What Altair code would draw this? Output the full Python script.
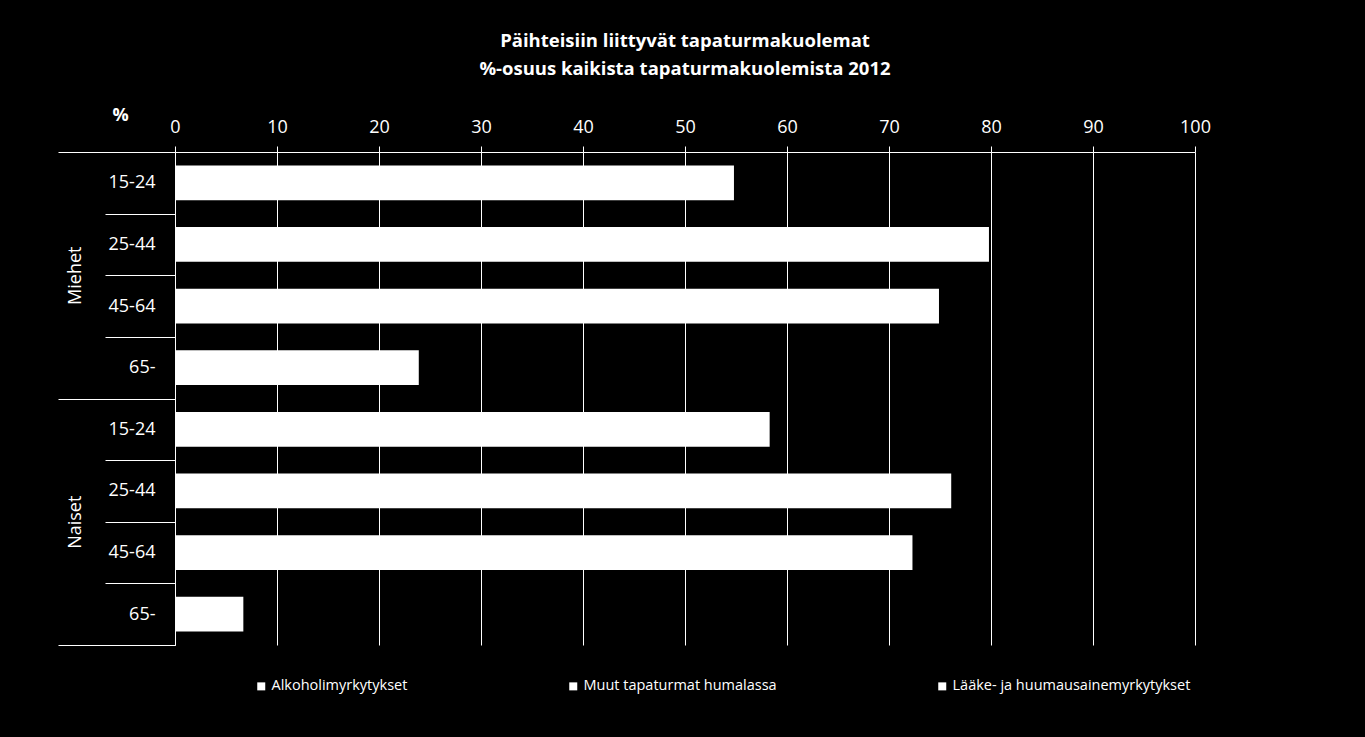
import altair as alt
import pandas as pd

# ---- data ----
groups = ["Miehet", "Miehet", "Miehet", "Miehet", "Naiset", "Naiset", "Naiset", "Naiset"]
ages = ["15-24", "25-44", "45-64", "65-", "15-24", "25-44", "45-64", "65-"]
values = [54.8, 79.8, 74.9, 23.9, 58.3, 76.1, 72.3, 6.7]
group_names = ["Miehet", "Naiset"]
series = ["Alkoholimyrkytykset", "Muut tapaturmat humalassa", "Lääke- ja huumausainemyrkytykset"]
x_ticks = [0, 10, 20, 30, 40, 50, 60, 70, 80, 90, 100]
title_lines = ["Päihteisiin liittyvät tapaturmakuolemat", "%-osuus kaikista tapaturmakuolemista 2012"]

keys = [f"{g} {a}" for g, a in zip(groups, ages)]
df = pd.DataFrame({"key": keys, "group": groups, "age": ages, "value": values})
gdf = pd.DataFrame({"group": group_names})
sdf = pd.DataFrame({"series": series})

FONT = "Open Sans"
W = "white"

x_axis = alt.Axis(
    orient="top", values=x_ticks, grid=True, gridColor=W, gridWidth=1, gridOpacity=1,
    tickColor=W, tickSize=6, domainColor=W, labelColor=W, labelFontSize=18, labelFont=FONT,
    labelPadding=10, labelFlush=False, title="%", titleColor=W, titleFont=FONT, titleFontSize=18,
    titleFontWeight="bold", titleX=-55, titleY=-37, titleAngle=0, titleAlign="center",
    titleBaseline="middle",
)

bars = alt.Chart(df).mark_bar(color=W, height={"band": 0.565}).encode(
    x=alt.X("value:Q", scale=alt.Scale(domain=[0, 100], nice=False), axis=x_axis),
    y=alt.Y(
        "key:N", sort=keys,
        scale=alt.Scale(domain=keys, paddingInner=0, paddingOuter=0),
        axis=alt.Axis(
            orient="left", title=None, labelExpr="split(datum.label, ' ')[1]",
            tickBand="extent", tickSize=70, tickColor=W, domainColor=W,
            labelColor=W, labelFont=FONT, labelFontSize=18, labelPadding=-50,
            labelAlign="right", labelBaseline="middle", grid=False,
        ),
    ),
)

grp = alt.Chart(gdf).mark_bar(opacity=0).encode(
    y=alt.Y(
        "group:N",
        scale=alt.Scale(domain=group_names, paddingInner=0, paddingOuter=0),
        axis=alt.Axis(
            orient="left", title=None, tickBand="extent", tickSize=117, tickColor=W,
            domain=False, labelAngle=270, labelColor=W, labelFont=FONT, labelFontSize=18,
            labelPadding=-26, labelAlign="center", labelBaseline="bottom", grid=False,
        ),
    ),
)

leg = alt.Chart(sdf).mark_square(opacity=0).encode(
    color=alt.Color(
        "series:N", sort=series,
        scale=alt.Scale(domain=series, range=[W, W, W]),
        legend=alt.Legend(
            orient="none", legendX=79, legendY=527, direction="horizontal", title=None,
            symbolType="square", symbolSize=64, symbolFillColor=W, symbolStrokeWidth=0,
            symbolOpacity=1, labelColor=W, labelFont=FONT, labelFontSize=14.5, labelLimit=0,
            columnPadding=158, labelOffset=3,
        ),
    )
)

chart = (
    alt.layer(bars, grp, leg)
    .resolve_scale(y="independent")
    .properties(
        width=1020, height=493, background="black",
        padding={"left": 175, "top": 152, "right": 170, "bottom": 92},
        autosize=alt.AutoSizeParams(type="none"),
        title=alt.TitleParams(
            text=title_lines, color=W, font=FONT, fontSize=18.5, fontWeight="bold",
            anchor="middle", frame="group", offset=28, lineHeight=28,
        ),
    )
    .configure_view(strokeWidth=0)
)

chart.save("out.html", embed_options={"renderer": "svg", "actions": False})
